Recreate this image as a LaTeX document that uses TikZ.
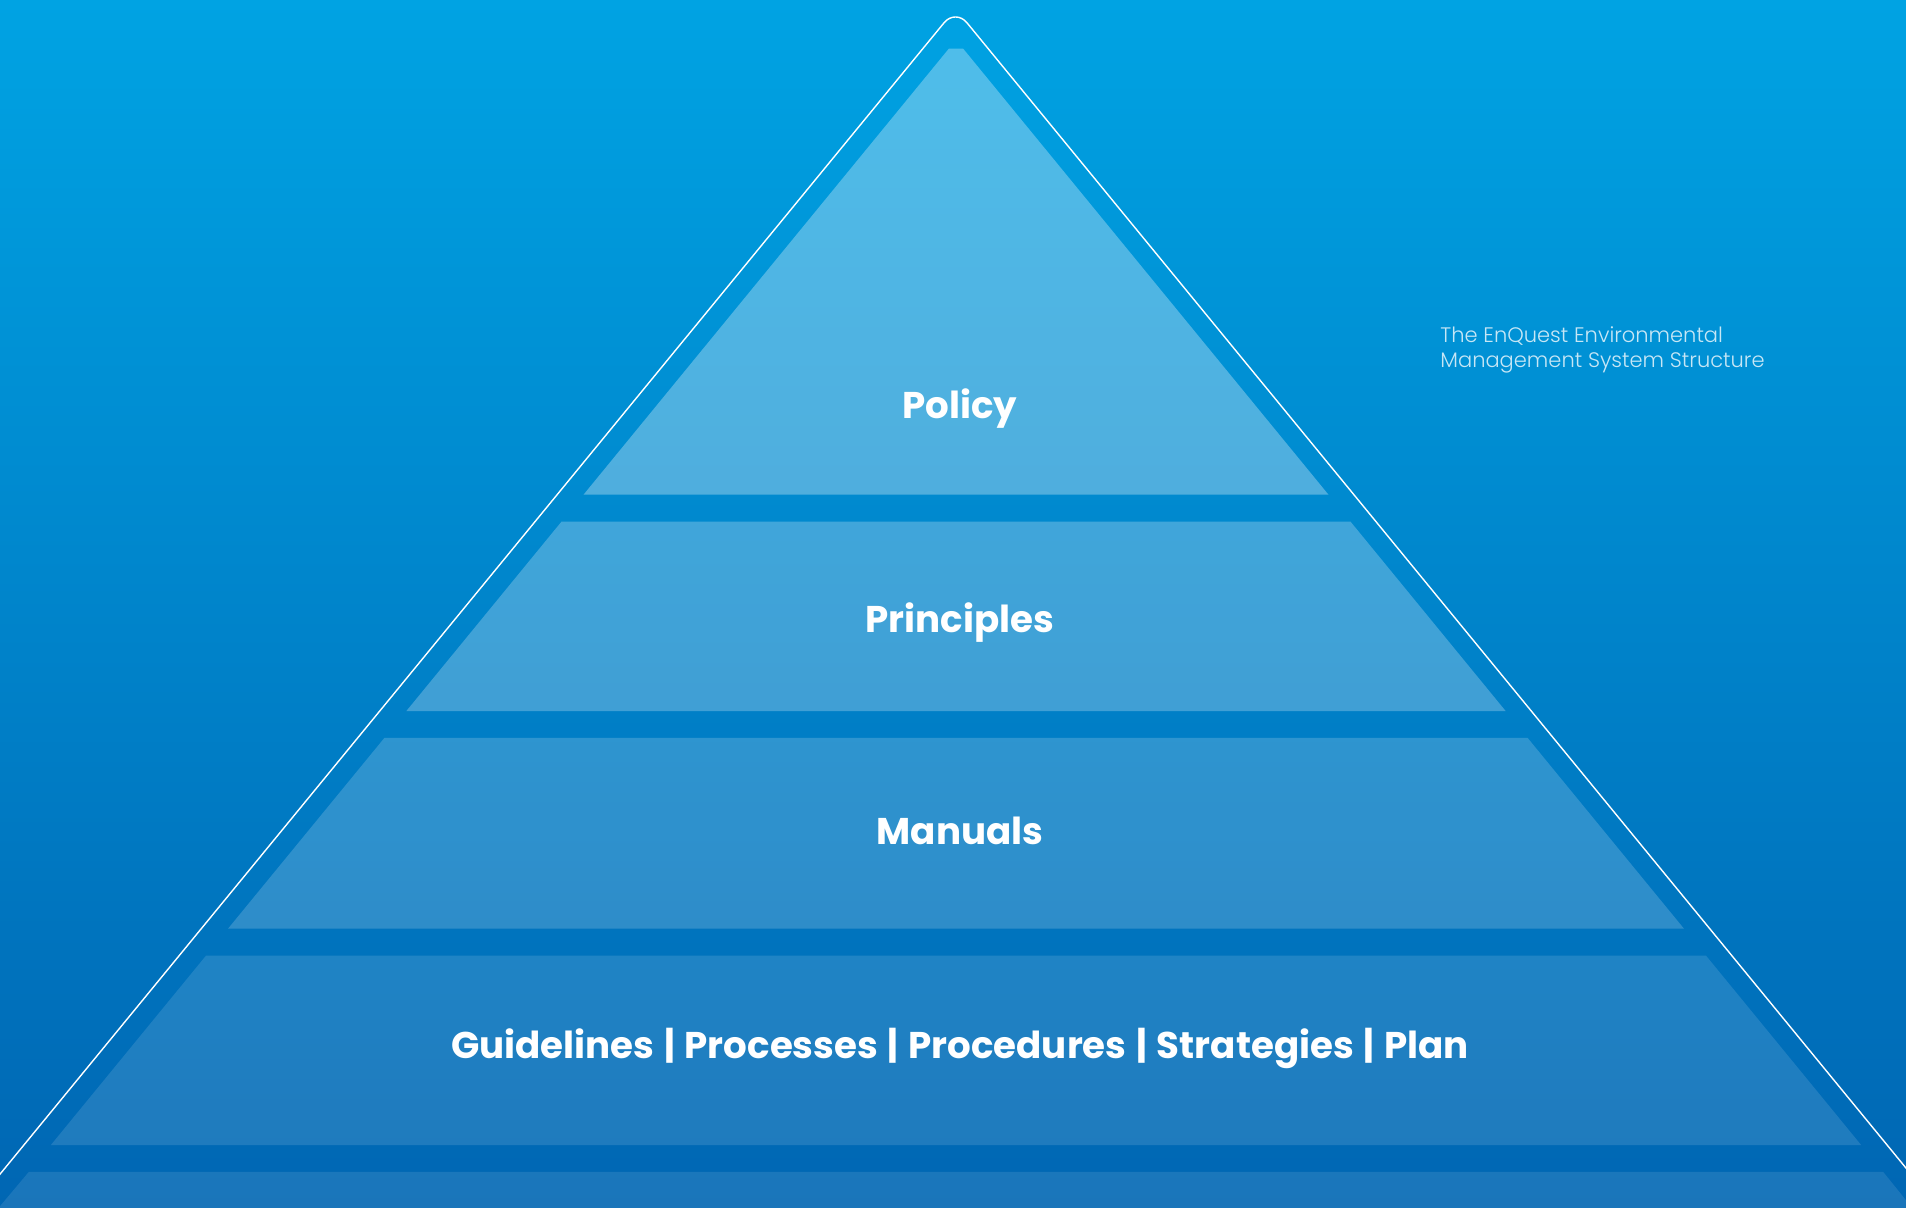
\documentclass[tikz,border=0pt]{standalone}
\usepackage{fontspec}
\setmainfont{Poppins}
\newfontfamily\capfont{Poppins Light}
\usetikzlibrary{positioning}

\definecolor{skytop}{HTML}{00A3E3}
\definecolor{skybottom}{HTML}{0066B3}
\newcommand{\sep}{\hspace{0.05em} | \hspace{0.05em}}

\begin{document}
\begin{tikzpicture}[x=0.5pt, y=-0.5pt,
    layer/.style={fill=white},
    tier/.style={text=white, anchor=base, inner sep=0pt, font=\fontsize{18.6}{22}\selectfont\bfseries},
    caption/.style={text=white, text opacity=0.78, anchor=base west, align=left, inner sep=0pt, font=\capfont\fontsize{10.5}{12.5}\selectfont}]

    % Background
    \useasboundingbox (0,0) rectangle (1906,1207);
    \shade[top color=skytop, bottom color=skybottom] (0,0) rectangle (1906,1207);

    \begin{scope}
    \clip (0,0) rectangle (1906,1207);
    % Outline
    \draw[white, line width=0.7pt, rounded corners=9] (-54,1240) -- (955.5,8.8) -- (1965,1240);
    % Layers
    \fill[layer, opacity=0.31] (948.9,48.6) -- (963.1,48.6) -- (1328.5,494.7) -- (583.5,494.7) -- cycle;
    \fill[layer, opacity=0.25] (561.6,521.5) -- (1350.4,521.5) -- (1505.7,711.1) -- (406.3,711.1) -- cycle;
    \fill[layer, opacity=0.18] (384.4,737.9) -- (1527.6,737.9) -- (1684,928.7) -- (228,928.7) -- cycle;
    \fill[layer, opacity=0.12] (206.1,955.5) -- (1705.9,955.5) -- (1861.2,1145.1) -- (50.8,1145.1) -- cycle;
    \fill[layer, opacity=0.10] (28.9,1171.8) -- (1883.1,1171.8) -- (1930,1230) -- (-20,1230) -- cycle;
    \end{scope}

    % Nodes
    \node (policy) [tier] at (960,418) {Policy};
    \node (principles) [tier] at (960,632) {Principles};
    \node (manuals) [tier] at (960,844.5) {Manuals};
    \node (guidelines) [tier] at (960,1058.5) {Guidelines\sep Processes\sep Procedures\sep Strategies\sep Plan};

    \node (title) [caption] at (1440,367.3) {The EnQuest Environmental\\Management System Structure};

\end{tikzpicture}
\end{document}
